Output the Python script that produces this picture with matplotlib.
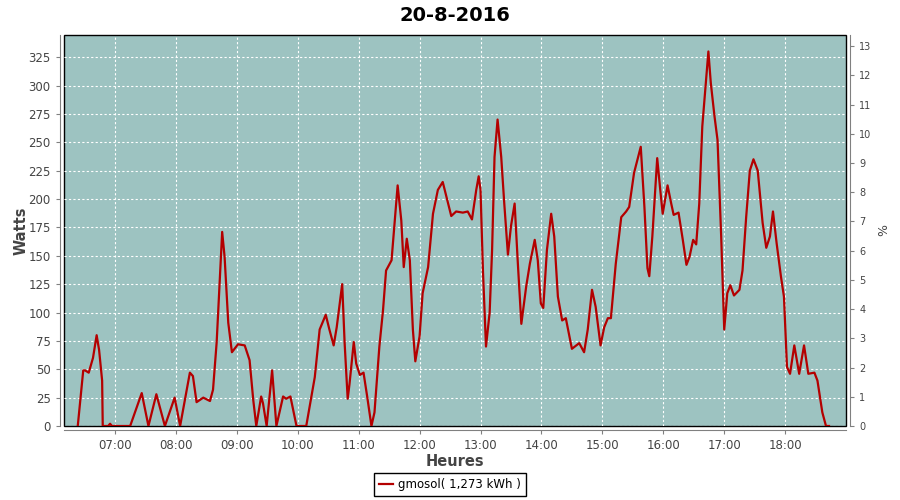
import matplotlib
matplotlib.use("Agg")
import matplotlib.pyplot as plt
from matplotlib.ticker import FixedLocator

# ============================
# Data (time in decimal hours, power in watts)
# ============================
heures = [6.39, 6.48, 6.51, 6.57, 6.64, 6.70, 6.74, 6.79, 6.80, 6.89, 6.92, 6.95,
          7.25, 7.44, 7.55, 7.68, 7.82, 7.98, 8.07, 8.23, 8.28, 8.34, 8.45, 8.56,
          8.61, 8.67, 8.76, 8.80, 8.86, 8.92, 9.02, 9.13, 9.21, 9.27, 9.32, 9.40,
          9.43, 9.49, 9.58, 9.65, 9.76, 9.81, 9.88, 9.98, 10.14, 10.28, 10.36, 10.46,
          10.52, 10.59, 10.64, 10.73, 10.77, 10.82, 10.85, 10.92, 10.96, 11.02, 11.08, 11.14,
          11.21, 11.26, 11.34, 11.40, 11.45, 11.54, 11.59, 11.64, 11.70, 11.74, 11.79, 11.84,
          11.89, 11.93, 12.00, 12.05, 12.14, 12.22, 12.30, 12.38, 12.44, 12.52, 12.60, 12.71,
          12.79, 12.86, 12.93, 12.97, 13.00, 13.04, 13.09, 13.15, 13.19, 13.23, 13.28, 13.34,
          13.39, 13.45, 13.50, 13.56, 13.61, 13.67, 13.75, 13.81, 13.89, 13.94, 13.99, 14.03,
          14.09, 14.16, 14.21, 14.27, 14.34, 14.40, 14.50, 14.62, 14.70, 14.76, 14.83, 14.89,
          14.97, 15.03, 15.09, 15.14, 15.22, 15.31, 15.39, 15.44, 15.52, 15.63, 15.69, 15.74,
          15.77, 15.82, 15.90, 15.95, 15.99, 16.07, 16.13, 16.17, 16.25, 16.32, 16.38, 16.43,
          16.49, 16.54, 16.59, 16.64, 16.74, 16.78, 16.84, 16.89, 16.95, 17.00, 17.05, 17.10,
          17.16, 17.25, 17.30, 17.36, 17.42, 17.48, 17.55, 17.63, 17.69, 17.75, 17.80, 17.86,
          17.93, 17.98, 18.03, 18.08, 18.15, 18.23, 18.31, 18.38, 18.48, 18.53, 18.61, 18.67,
          18.72]
watts = [0, 49, 49, 47, 60, 80, 67, 40, 0, 0, 2, 0,
         0, 29, 0, 28, 0, 25, 0, 47, 44, 21, 25, 22,
         32, 74, 171, 149, 91, 65, 72, 71, 58, 23, 0, 26,
         20, 0, 49, 0, 26, 24, 26, 0, 0, 43, 85, 98,
         85, 71, 87, 125, 73, 24, 37, 74, 55, 45, 47, 26,
         0, 12, 70, 102, 137, 146, 179, 212, 181, 140, 165, 146,
         85, 57, 79, 117, 140, 187, 208, 215, 202, 185, 189, 188,
         189, 182, 208, 220, 208, 137, 70, 100, 155, 237, 270, 237,
         196, 151, 176, 196, 146, 90, 123, 143, 164, 146, 108, 104,
         155, 187, 167, 114, 93, 95, 68, 73, 65, 85, 120, 105,
         71, 87, 95, 95, 143, 184, 189, 193, 223, 246, 193, 139,
         132, 167, 236, 208, 187, 212, 196, 186, 188, 164, 142, 149,
         164, 160, 196, 264, 330, 302, 273, 252, 167, 85, 117, 124,
         115, 120, 137, 184, 225, 235, 225, 179, 157, 167, 189, 161,
         132, 114, 52, 46, 71, 46, 71, 46, 47, 40, 12, 0,
         0]

tick_hours = [7, 8, 9, 10, 11, 12, 13, 14, 15, 16, 17, 18]
tick_labels = ["%02d:00" % h for h in tick_hours]
watt_ticks = list(range(0, 326, 25))
pct_ticks = list(range(0, 14))

serie_label = "gmosol( 1,273 kWh )"
titre = "20-8-2016"

# ============================
# Plotting
# ============================
plt.rcParams['font.family'] = ['DejaVu Sans']
fig = plt.figure(figsize=(9, 5), dpi=100)
ax = fig.add_axes([0.0711, 0.148, 0.869, 0.782])
ax.set_facecolor('#9dc3c1')
ax.patch.set_edgecolor('black')
ax.patch.set_linewidth(1.0)

ax.plot(heures, watts, color='#b40000', lw=1.6, label=serie_label, zorder=3)

ax.set_xlim(6.164, 19.0)
ax.set_ylim(0, 344.5)
ax.xaxis.set_major_locator(FixedLocator(tick_hours))
ax.set_xticklabels(tick_labels)
ax.yaxis.set_major_locator(FixedLocator(watt_ticks))
ax.grid(True, color='white', ls=(0, (2, 2)), lw=0.8)

for side in ['top', 'right']:
    ax.spines[side].set_visible(False)
for side in ['left', 'bottom']:
    ax.spines[side].set_position(('outward', 3))
    ax.spines[side].set_color('#808080')

ax.tick_params(colors='#808080', labelcolor='#444444', labelsize=8.5, length=3)
ax.set_xlabel("Heures", fontsize=10.5, fontweight='bold', color='#444444', labelpad=1)
ax.set_ylabel("Watts", fontsize=10.5, fontweight='bold', color='#444444', labelpad=0)
ax.set_title(titre, fontsize=14, fontweight='bold', pad=10)

ax2 = ax.twinx()
ax2.set_ylim(0, 13.38)
ax2.yaxis.set_major_locator(FixedLocator(pct_ticks))
for side in ['top', 'left', 'bottom']:
    ax2.spines[side].set_visible(False)
ax2.spines['right'].set_position(('outward', 3))
ax2.spines['right'].set_color('#808080')
ax2.tick_params(colors='#808080', labelcolor='#444444', labelsize=7, length=3)
ax2.set_ylabel("%", fontsize=9, color='#444444')

leg = fig.legend(loc='lower center', bbox_to_anchor=(0.5, 0.0), fontsize=8.5,
                 fancybox=False, edgecolor='black', framealpha=1,
                 handlelength=1.2, borderpad=0.45, handletextpad=0.4,
                 borderaxespad=0.3)
leg.get_frame().set_linewidth(1.0)

fig.savefig("out.png", dpi=100)
plt.close(fig)
